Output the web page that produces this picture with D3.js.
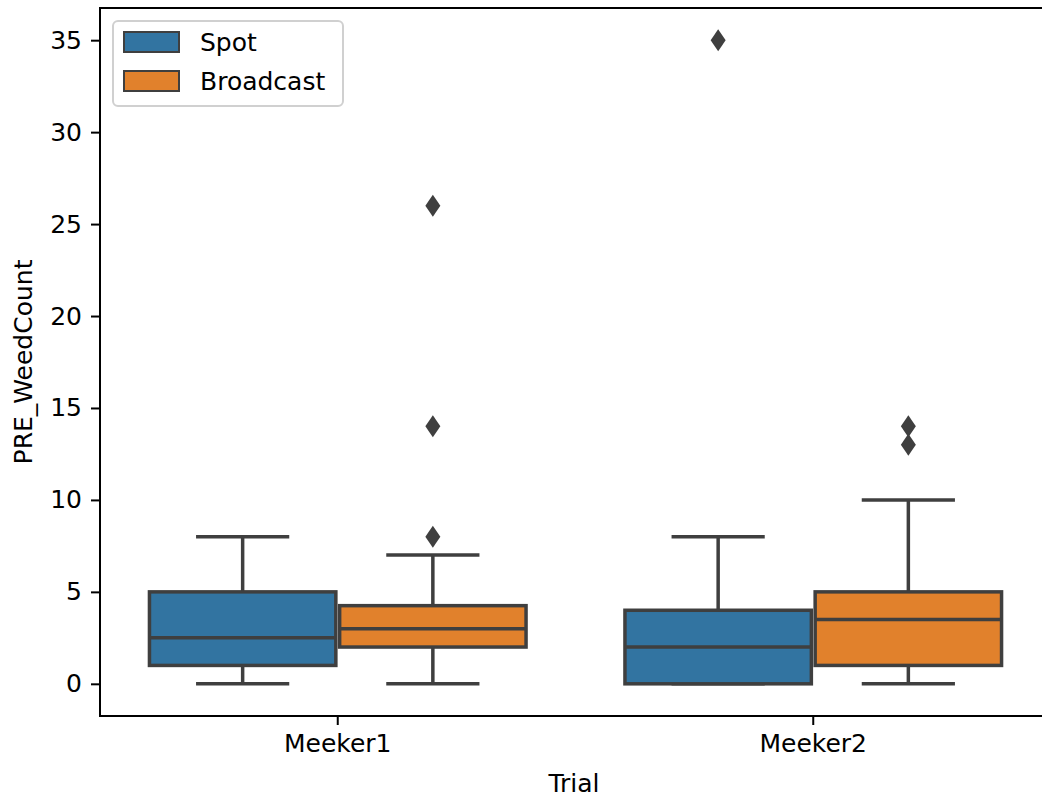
<!DOCTYPE html>
<html>
<head>
<meta charset="utf-8">
<script src="https://cdn.jsdelivr.net/npm/d3@7"></script>
<style>
  html, body { margin: 0; padding: 0; background: #fff; }
  svg { display: block; }
  text { font-family: "DejaVu Sans", sans-serif; fill: #000; }
</style>
</head>
<body>
<svg id="chart" width="1042" height="799"></svg>
<script>
// Box statistics of PRE_WeedCount per trial and treatment
const trials = ["Meeker1", "Meeker2"];
const treatments = ["Spot", "Broadcast"];
const colors = ["#3274a1", "#e1812c"];

// indexed [trial][treatment]
const q1 = [[1, 2], [0, 1]];
const median = [[2.5, 3], [2, 3.5]];
const q3 = [[5, 4.25], [4, 5]];
const whiskerLow = [[0, 0], [0, 0]];
const whiskerHigh = [[8, 7], [8, 10]];
const outliers = [[[], [8, 14, 26]], [[35], [13, 14]]];

const yTicks = [0, 5, 10, 15, 20, 25, 30, 35];

const svg = d3.select("#chart");
const plot = { left: 100, right: 1051, top: 8, bottom: 716 };
const lineColor = "#3f3f3f";

const x = d3.scaleBand().domain(trials).range([plot.left, plot.right]).padding(0);
const hueOffset = d3.scaleBand().domain(treatments).range([-0.4, 0.4]);
const y = d3.scaleLinear().domain([-1.75, 36.75]).range([plot.bottom, plot.top]);

const unit = x.bandwidth();               // one category unit in px
const boxW = 0.4 * 0.98 * unit;
const capW = boxW / 2;

const groups = [];
trials.forEach((t, i) => treatments.forEach((h, j) => {
  groups.push({
    trial: t, hue: h, color: colors[j],
    cx: x(t) + unit / 2 + (hueOffset(h) + hueOffset.bandwidth() / 2) * unit,
    q1: q1[i][j], med: median[i][j], q3: q3[i][j],
    lo: whiskerLow[i][j], hi: whiskerHigh[i][j], out: outliers[i][j]
  });
}));

const g = svg.append("g");
const lw = 3.5;

groups.forEach(d => {
  // whiskers
  g.append("line").attr("x1", d.cx).attr("x2", d.cx).attr("y1", y(d.q1)).attr("y2", y(d.lo))
    .attr("stroke", lineColor).attr("stroke-width", lw);
  g.append("line").attr("x1", d.cx).attr("x2", d.cx).attr("y1", y(d.q3)).attr("y2", y(d.hi))
    .attr("stroke", lineColor).attr("stroke-width", lw);
  [d.lo, d.hi].forEach(v => {
    g.append("line").attr("x1", d.cx - capW / 2).attr("x2", d.cx + capW / 2)
      .attr("y1", y(v)).attr("y2", y(v))
      .attr("stroke", lineColor).attr("stroke-width", lw);
  });
});

groups.forEach(d => {
  // box and median
  g.append("rect").attr("x", d.cx - boxW / 2).attr("width", boxW)
    .attr("y", y(d.q3)).attr("height", Math.max(0, y(d.q1) - y(d.q3)))
    .attr("fill", d.color).attr("stroke", lineColor).attr("stroke-width", lw);
  g.append("line").attr("x1", d.cx - boxW / 2).attr("x2", d.cx + boxW / 2)
    .attr("y1", y(d.med)).attr("y2", y(d.med))
    .attr("stroke", lineColor).attr("stroke-width", lw);
  // outliers as thin diamonds
  d.out.forEach(v => {
    const cy = y(v);
    g.append("path")
      .attr("d", `M${d.cx},${cy - 11}L${d.cx + 7.5},${cy}L${d.cx},${cy + 11}L${d.cx - 7.5},${cy}Z`)
      .attr("fill", lineColor);
  });
});

// axes
const yAxis = d3.axisLeft(y).tickValues(yTicks).tickSize(9).tickPadding(9);
const yg = svg.append("g").attr("transform", `translate(${plot.left},0)`).call(yAxis);
const xAxis = d3.axisBottom(x).tickSize(9).tickPadding(9);
const xg = svg.append("g").attr("transform", `translate(0,${plot.bottom})`).call(xAxis);
[yg, xg].forEach(a => {
  a.select(".domain").remove();
  a.selectAll(".tick line").attr("stroke", "#000").attr("stroke-width", 2);
  a.selectAll(".tick text").attr("font-size", 25).attr("font-family", "DejaVu Sans").attr("fill", "#000");
});

// spines
svg.append("rect").attr("x", plot.left).attr("y", plot.top)
  .attr("width", plot.right - plot.left).attr("height", plot.bottom - plot.top)
  .attr("fill", "none").attr("stroke", "#000").attr("stroke-width", 2);

// axis labels
svg.append("text").attr("x", 574).attr("y", 792)
  .attr("text-anchor", "middle").attr("font-size", 25).text("Trial");
svg.append("text").attr("transform", `translate(32,${(plot.top + plot.bottom) / 2}) rotate(-90)`)
  .attr("text-anchor", "middle").attr("font-size", 25).text("PRE_WeedCount");

// legend
const leg = svg.append("g").attr("transform", "translate(113,21)");
leg.append("rect").attr("width", 230).attr("height", 85).attr("rx", 5)
  .attr("fill", "#fff").attr("fill-opacity", 0.8).attr("stroke", "#d0d0d0").attr("stroke-width", 2);
treatments.forEach((h, j) => {
  const row = leg.append("g").attr("transform", `translate(11,${11 + j * 39})`);
  row.append("rect").attr("width", 55).attr("height", 20)
    .attr("fill", colors[j]).attr("stroke", lineColor).attr("stroke-width", 2);
  row.append("text").attr("x", 76).attr("y", 19).attr("font-size", 25).text(h);
});
</script>
</body>
</html>
